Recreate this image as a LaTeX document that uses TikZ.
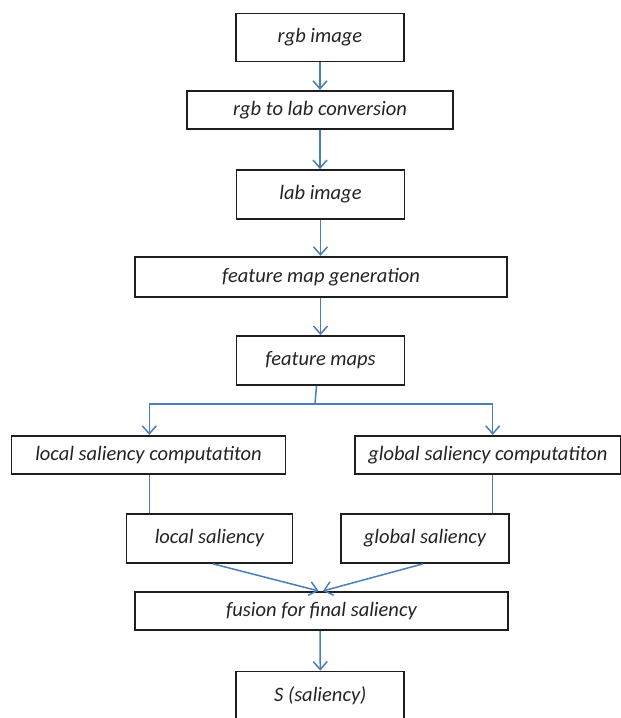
\documentclass[tikz,border=0pt]{standalone}
\usepackage{fontspec}
\setmainfont{Carlito}
\usetikzlibrary{arrows.meta}
\definecolor{linkblue}{RGB}{74,126,187}
\definecolor{boxline}{RGB}{30,30,30}
\definecolor{txt}{RGB}{35,35,35}
\tikzset{
  box/.style={draw=boxline, line width=1.7pt, inner sep=0pt, text=txt,
    font=\fontsize{20.5}{24}\selectfont\itshape},
  arr/.style={draw=linkblue, line width=1.5pt, -{Straight Barb[length=8pt,width=14pt,line width=1.5pt]}},
  lnk/.style={draw=linkblue, line width=1.5pt},
}
\begin{document}
\begin{tikzpicture}[x=1pt,y=-1pt]
\useasboundingbox (0,0) rectangle (621,718);
\node[box, minimum width=168pt, minimum height=48pt] (rgb) at (320,37.5) {rgb image};
\node[box, minimum width=266pt, minimum height=38.5pt] (conv) at (320,110) {rgb to lab conversion};
\node[box, minimum width=168pt, minimum height=49pt] (lab) at (320.5,194.5) {lab image};
\node[box, minimum width=372pt, minimum height=40.5pt] (fmg) at (321,277) {feature map generation};
\node[box, minimum width=168pt, minimum height=49pt] (fm) at (320.5,360.5) {feature maps};
\node[box, minimum width=274pt, minimum height=38.5pt] (lsc) at (148.5,455) {local saliency computatiton};
\node[box, minimum width=266pt, minimum height=38.5pt] (gsc) at (488,455) {global saliency computatiton};
\node[box, minimum width=166pt, minimum height=49pt] (ls) at (209.5,538.5) {local saliency};
\node[box, minimum width=168pt, minimum height=49pt] (gs) at (425,538.5) {global saliency};
\node[box, minimum width=373pt, minimum height=38.5pt] (fus) at (321.5,611) {fusion for final saliency};
\node[box, minimum width=168pt, minimum height=48pt] (S) at (320.3,695.5) {S (saliency)};
\coordinate (j) at (315,404);
\coordinate (jl) at (149.3,404);
\coordinate (jr) at (492.7,404);
\draw[arr] (rgb.south) -- (conv.north);
\draw[arr] (conv.south) -- (conv.south |- lab.north);
\draw[arr] (lab.south) -- (lab.south |- fmg.north);
\draw[arr] (fmg.south -| lab.south) -- (fm.north);
\draw[lnk] ([xshift=-4pt]fm.south) -- (j);
\draw[lnk] (jl) -- (jr);
\draw[arr] (jl) -- (jl |- lsc.north);
\draw[arr] (jr) -- (jr |- gsc.north);
\draw[lnk] (jl |- lsc.south) -- (jl |- ls.north);
\draw[lnk] (jr |- gsc.south) -- (jr |- gs.north);
\draw[arr] ([xshift=3.5pt]ls.south) -- ([xshift=-3pt]fus.north);
\draw[arr] ([xshift=-2pt]gs.south) -- ([xshift=1.5pt]fus.north);
\draw[arr] ([xshift=-1.5pt]fus.south) -- (S.north);
\end{tikzpicture}
\end{document}
